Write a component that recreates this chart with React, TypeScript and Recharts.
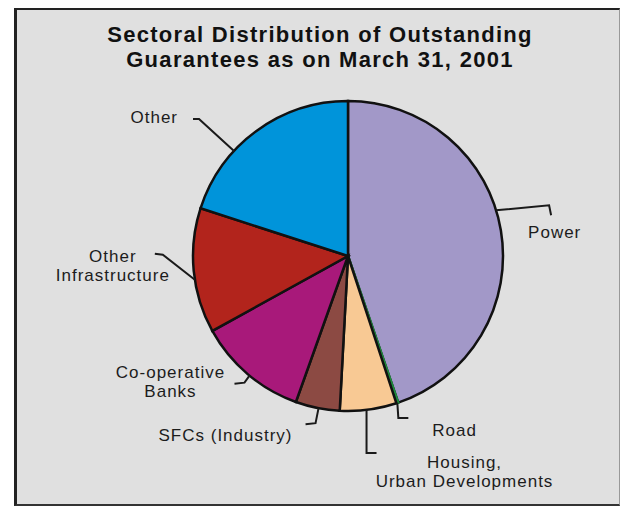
import React from 'react';
import { PieChart, Pie, Cell } from 'recharts';

const titleLines = ['Sectoral Distribution of Outstanding', 'Guarantees as on March 31, 2001'];
const sectors = [
  'Power',
  'Road',
  'Housing, Urban Developments',
  'SFCs (Industry)',
  'Co-operative Banks',
  'Other Infrastructure',
  'Other',
];
const shares = [44.7, 0.2, 5.9, 4.6, 11.5, 13.0, 20.0];
const labelTexts: string[][] = [
  ['Power'],
  ['Road'],
  ['Housing,', 'Urban Developments'],
  ['SFCs (Industry)'],
  ['Co-operative', 'Banks'],
  ['Other', 'Infrastructure'],
  ['Other'],
];
const colors = ['#A298C8', '#1E8C3C', '#F8C994', '#8C4A43', '#A8197A', '#B2241C', '#0094DA'];

const data = sectors.map((name, i) => ({ name, value: shares[i], lines: labelTexts[i] }));

// label layout (leader line relative offsets and text placement)
type LabelLayout = {
  delta: number;
  leader: [number, number][];
  tx: number;
  ty: number;
  anchor: 'start' | 'middle' | 'end';
};
const labelLayout: LabelLayout[] = [
  { delta: 7.7, leader: [[53, -5], [55, 5]], tx: 32, ty: 28, anchor: 'start' },
  { delta: 0, leader: [[1, 15], [11, 15]], tx: 35, ty: 33, anchor: 'start' },
  { delta: -0.7, leader: [[0, 43], [10, 43]], tx: 98, ty: 58, anchor: 'middle' },
  { delta: 0.4, leader: [[-3, 15], [-13, 16]], tx: -26, ty: 33, anchor: 'end' },
  { delta: 0.9, leader: [[-5, 7], [-15, 8]], tx: -79, ty: 2, anchor: 'middle' },
  { delta: 3.3, leader: [[-32, -25], [-40, -26]], tx: -82, ty: -18, anchor: 'middle' },
  { delta: 11.3, leader: [[-35, -32], [-41, -32]], tx: -56, ty: -28, anchor: 'end' },
];

const RAD = Math.PI / 180;
const FONT = '"Liberation Sans", Arial, Helvetica, sans-serif';

const renderLabel = (props: any) => {
  const { cx, cy, midAngle, outerRadius, index } = props;
  const lay = labelLayout[index];
  const entry = data[index];
  const ang = (midAngle + lay.delta) * RAD;
  const x0 = cx + outerRadius * Math.cos(-ang);
  const y0 = cy + outerRadius * Math.sin(-ang);
  const pts = [[x0, y0], ...lay.leader.map(([dx, dy]) => [x0 + dx, y0 + dy])];
  return (
    <g key={`lbl-${index}`}>
      <polyline
        points={pts.map((p) => p.join(',')).join(' ')}
        fill="none"
        stroke="#1a1a1a"
        strokeWidth={2}
      />
      {entry.lines.map((line: string, k: number) => (
        <text
          key={k}
          x={x0 + lay.tx}
          y={y0 + lay.ty + k * 19}
          textAnchor={lay.anchor}
          fontFamily={FONT}
          fontSize={17}
          letterSpacing={1}
          fill="#1c1c1c"
        >
          {line}
        </text>
      ))}
    </g>
  );
};

export default function App() {
  return (
    <div style={{ position: 'absolute', left: 0, top: 0, width: 621, height: 506, background: '#ffffff' }}>
      <div
        style={{
          position: 'absolute',
          left: 14,
          top: 8,
          width: 606,
          height: 498,
          boxSizing: 'border-box',
          background: '#E0E0E0',
          borderLeft: '3px solid #222',
          borderTop: '2px solid #222',
          borderBottom: '2px solid #333',
          borderRight: '1px solid #999',
        }}
      />
      <svg width={621} height={506} style={{ position: 'absolute', left: 0, top: 0 }}>
        {titleLines.map((t, i) => (
          <text
            key={i}
            x={320}
            y={42 + i * 25}
            textAnchor="middle"
            fontFamily={FONT}
            fontWeight="bold"
            fontSize={22}
            letterSpacing={1.3}
            fill="#111"
          >
            {t}
          </text>
        ))}
      </svg>
      <div style={{ position: 'absolute', left: 0, top: 0 }}>
        <PieChart width={621} height={506} margin={{ top: 0, right: 0, bottom: 0, left: 0 }}>
          <Pie
            data={data}
            dataKey="value"
            nameKey="name"
            cx={348}
            cy={256}
            outerRadius={155}
            startAngle={90}
            endAngle={-270}
            stroke="#111"
            strokeWidth={2.5}
            label={renderLabel}
            labelLine={false}
            isAnimationActive={false}
          >
            {data.map((d, i) => (
              <Cell key={d.name} fill={colors[i]} stroke={i === 1 ? colors[1] : '#111'} />
            ))}
          </Pie>
        </PieChart>
      </div>
    </div>
  );
}
